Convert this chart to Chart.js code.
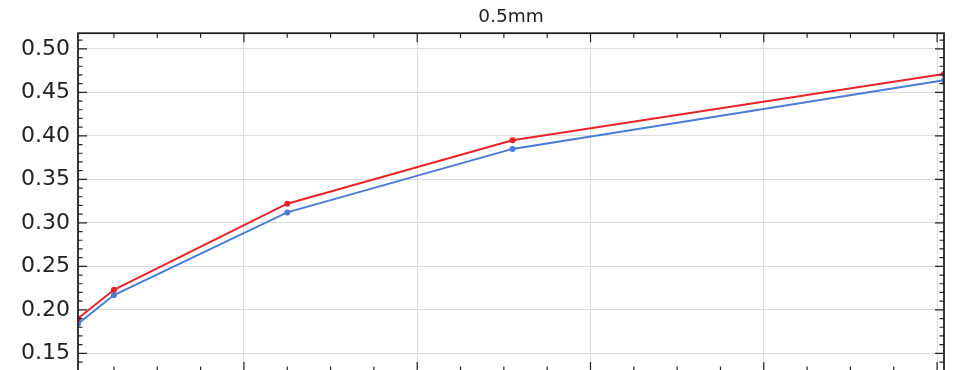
<!DOCTYPE html>
<html>
<head>
<meta charset="utf-8">
<script src="https://cdn.jsdelivr.net/npm/chart.js@4/dist/chart.umd.min.js"></script>
<style>
	html, body { margin: 0; padding: 0; overflow: hidden; background: #fff; }
	#wrap { width: 958px; height: 375px; position: relative; }
</style>
</head>
<body>
<div id="wrap"><canvas id="chart"></canvas></div>
<script>
// x positions of the samples (axis labels are cropped off in the reference)
const xValues = [0.85, 5, 25, 51, 100.8];
const redValues = [0.190, 0.223, 0.322, 0.395, 0.471];
const blueValues = [0.184, 0.217, 0.312, 0.385, 0.464];
const titleText = '0.5mm';

const xMin = 0.85, xMax = 100.8, xMinor = 5, xMajor = 20;
const yMin = 0.1297, yMax = 0.518, yMinor = 0.01, yMajor = 0.05;

const redColor = '#e8232a', blueColor = '#4a7bd6', gridColor = '#dcdcdc', frameColor = '#222222';

function isMajor(v, step) {
	const r = v / step;
	return Math.abs(r - Math.round(r)) < 1e-6;
}

function toPoints(values) {
	return values.map((y, i) => ({ x: xValues[i], y: y }));
}

// ticks on every multiple of the minor step inside the range
function stepTicks(scale, step) {
	const ticks = [];
	for (let i = Math.ceil(scale.min / step - 1e-9); i * step <= scale.max + 1e-9; i++)
		ticks.push({ value: Math.round(i * step * 1e6) / 1e6 });
	scale.ticks = ticks;
}

// frame with inward ticks on all four sides
const frameTicks = {
	id: 'frameTicks',
	afterDatasetsDraw(chart) {
		const { ctx, chartArea: { top, bottom, left, right }, scales: { x, y } } = chart;
		ctx.save();
		ctx.strokeStyle = frameColor;
		ctx.lineWidth = 1.2;
		ctx.beginPath();
		x.ticks.forEach(t => {
			const px = x.getPixelForValue(t.value);
			const len = isMajor(t.value, xMajor) ? 9 : 4.5;
			ctx.moveTo(px, top); ctx.lineTo(px, top + len);
			ctx.moveTo(px, bottom); ctx.lineTo(px, bottom - len);
		});
		y.ticks.forEach(t => {
			const py = y.getPixelForValue(t.value);
			const len = isMajor(t.value, yMajor) ? 9 : 4.5;
			ctx.moveTo(left, py); ctx.lineTo(left + len, py);
			ctx.moveTo(right, py); ctx.lineTo(right - len, py);
		});
		ctx.stroke();
		ctx.lineWidth = 1.8;
		ctx.strokeRect(left, top, right - left, bottom - top);
		ctx.restore();
	}
};

new Chart(document.getElementById('chart'), {
	type: 'line',
	data: {
		datasets: [{
			data: toPoints(redValues),
			borderColor: redColor,
			backgroundColor: redColor,
			borderWidth: 2,
			pointRadius: 3,
			pointBorderWidth: 0,
			tension: 0
		}, {
			data: toPoints(blueValues),
			borderColor: blueColor,
			backgroundColor: blueColor,
			borderWidth: 2,
			pointRadius: 3,
			pointBorderWidth: 0,
			tension: 0
		}]
	},
	options: {
		responsive: true,
		maintainAspectRatio: false,
		animation: false,
		layout: {
			padding: { left: 0, right: 14, top: 0, bottom: 0 }
		},
		plugins: {
			legend: { display: false },
			tooltip: { enabled: false },
			title: {
				display: true,
				fullSize: false,
				text: titleText,
				color: '#222',
				font: { family: 'DejaVu Sans', size: 18.5, weight: 'normal' },
				padding: { top: 6, bottom: 5 }
			}
		},
		scales: {
			x: {
				type: 'linear',
				min: xMin,
				max: xMax,
				border: { display: false },
				grid: {
					drawTicks: false,
					color: c => isMajor(c.tick.value, xMajor) ? gridColor : 'rgba(0,0,0,0)',
					lineWidth: 1
				},
				ticks: { display: false, padding: 0 },
				afterBuildTicks: s => stepTicks(s, xMinor),
				afterFit: s => {
					s.height = 0;
					s.paddingLeft = 0; s.paddingRight = 0; s.paddingTop = 0; s.paddingBottom = 0;
				}
			},
			y: {
				min: yMin,
				max: yMax,
				border: { display: false },
				grid: {
					drawTicks: false,
					color: c => isMajor(c.tick.value, yMajor) ? gridColor : 'rgba(0,0,0,0)',
					lineWidth: 1
				},
				ticks: {
					autoSkip: false,
					padding: 8,
					color: '#222',
					font: { family: 'DejaVu Sans', size: 22 },
					callback: v => isMajor(v, yMajor) ? v.toFixed(2) : ''
				},
				afterBuildTicks: s => stepTicks(s, yMinor),
				afterFit: s => {
					s.width = 78;
					s.paddingTop = 0; s.paddingBottom = 0;
				}
			}
		}
	},
	plugins: [frameTicks]
});
</script>
</body>
</html>
